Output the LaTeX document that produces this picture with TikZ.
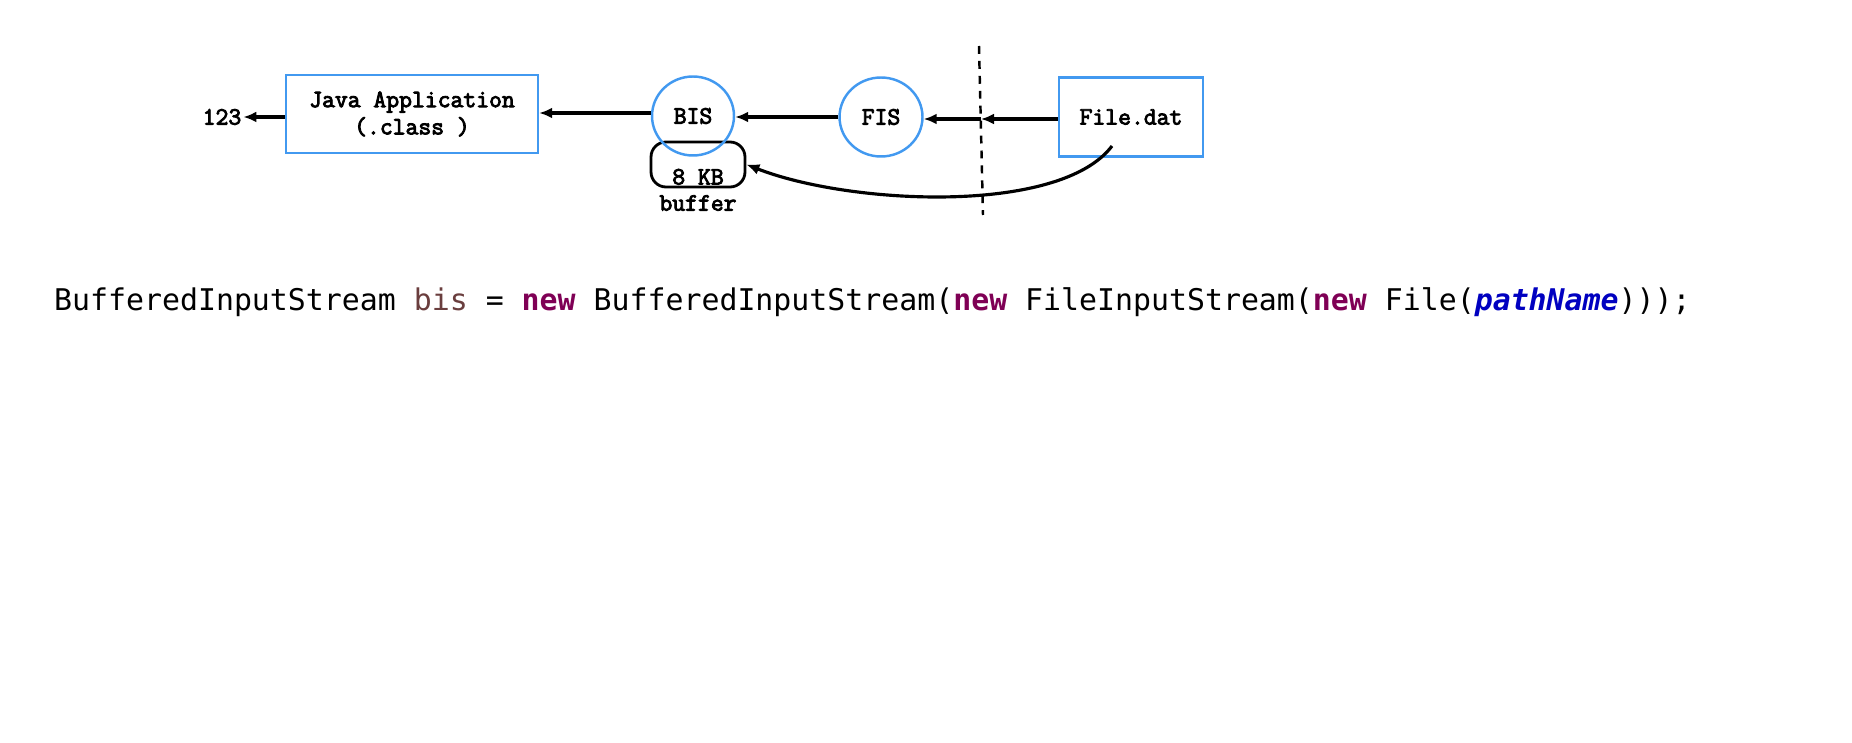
\documentclass[tikz,border=0pt]{standalone}
\usepackage{fontspec}
\setmonofont{Latin Modern Mono}[AutoFakeBold=3.5]
\newfontfamily\codefont{DejaVu Sans Mono}
\usetikzlibrary{arrows.meta, shapes.geometric}

\definecolor{boxblue}{RGB}{66,153,240}
\definecolor{kwpurple}{RGB}{127,0,85}
\definecolor{varbrown}{RGB}{106,62,62}
\definecolor{argblue}{RGB}{0,0,192}

\begin{document}
\begin{tikzpicture}[
    x=0.02cm, y=-0.02cm,
    every node/.style={font=\ttfamily\bfseries\fontsize{14.2}{15.5}\selectfont},
    >={Latex[length=2.6mm,width=2.2mm]},
    flow/.style={->, line width=1.8pt},
    blockbox/.style={draw=boxblue, line width=1.4pt, rectangle, align=center},
    streamball/.style={draw=boxblue, line width=1.4pt, ellipse, inner sep=0pt,
        minimum width=1.64cm, minimum height=1.58cm},
    bufbox/.style={draw, line width=1.6pt, rounded corners=0.3cm,
        minimum width=1.88cm, minimum height=0.9cm,
        text height=0.8cm, text depth=-0.04cm, inner ysep=0.02cm},
    divider/.style={dashed, dash pattern=on 4.5pt off 4pt, line width=1.4pt},
    codeline/.style={anchor=base west, font=\codefont\fontsize{17}{20}\selectfont},
]
\useasboundingbox (0,0) rectangle (1852,743);

% === Stream chain ===
\node (out) at (222,117) [inner sep=1pt] {123};
\node[blockbox, minimum width=5.04cm, minimum height=1.56cm] (java) at (412,114)
    {Java Application\\(.class )};
\node[bufbox] (buf) at (698,164.5) {8 KB};
\node (buflabel) at (698,203) {buffer};
\node[streamball] (bis) at (693,116) {BIS};
\node[streamball, minimum width=1.66cm] (fis) at (881,117) {FIS};
\node[blockbox, minimum width=2.88cm, minimum height=1.58cm] (file) at (1131,117) {File.dat};

% === Boundary between program and disk ===
\draw[divider] (979,46) -- (983,215);
\coordinate (gate) at (981,119);
\coordinate (tail) at (1112,146);

% === Data flow ===
\draw[flow] (file.west |- gate) -- (gate);
\draw[flow] (gate) -- (fis.east |- gate);
\draw[flow] (fis.west) -- (bis.east |- fis.west);
\draw[flow] (bis.west |- 0,113) -- (java.east |- 0,113);
\draw[flow] (java.west |- out) -- (out.east);
% file fills the buffer in one read
\draw[flow] (tail) .. controls (1060,215) and (850,205) .. (buf.east);

% === Java source line ===
\node[codeline] (code) at (48,310)
    {BufferedInputStream \textcolor{varbrown}{bis} = \textcolor{kwpurple}{\bfseries new} BufferedInputStream(\textcolor{kwpurple}{\bfseries new} FileInputStream(\textcolor{kwpurple}{\bfseries new} File(\textcolor{argblue}{\bfseries\itshape pathName})));};

\end{tikzpicture}
\end{document}
